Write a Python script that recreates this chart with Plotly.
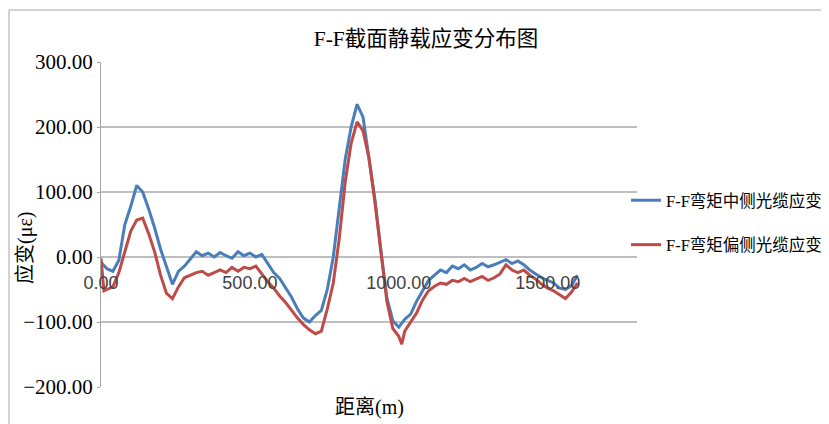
import plotly.graph_objects as go

# distance (m)
dist_mid = [0, 20, 40, 60, 80, 100, 120, 140, 160, 180, 200, 220, 240, 260, 280, 300,
            320, 340, 360, 380, 400, 420, 440, 460, 480, 500, 520, 540, 560, 580, 600,
            620, 640, 660, 680, 700, 720, 740, 760, 780, 800, 820, 840, 860, 880, 900,
            920, 940, 960, 980, 1000, 1020, 1040, 1060, 1080, 1100, 1120, 1140, 1160,
            1180, 1200, 1220, 1240, 1260, 1280, 1300, 1320, 1340, 1360, 1380, 1400,
            1420, 1440, 1460, 1480, 1500, 1520, 1540, 1560, 1580, 1600]
strain_mid = [-8, -18, -22, -5, 50, 78, 110, 100, 74, 45, 12, -16, -42, -22, -14, -3,
              8, 2, 6, 0, 7, 2, -2, 8, 2, 6, 0, 4, -10, -24, -33,
              -48, -62, -80, -94, -100, -90, -82, -50, 0, 80, 150, 200, 235, 215, 155,
              88, 10, -63, -98, -108, -96, -88, -68, -52, -36, -28, -20, -24,
              -14, -18, -12, -20, -16, -10, -15, -12, -8, -4, -10, -6,
              -12, -20, -26, -32, -36, -40, -48, -50, -44, -28]

dist_off = [0, 10, 20, 40, 60, 80, 100, 120, 140, 160, 180, 200, 220, 240, 260, 280, 300,
            320, 340, 360, 380, 400, 420, 440, 460, 480, 500, 520, 540, 560, 580, 600,
            620, 640, 660, 680, 700, 720, 740, 760, 780, 800, 820, 840, 860, 880, 900,
            920, 940, 960, 980, 1000, 1010, 1020, 1040, 1060, 1080, 1100, 1120, 1140, 1160,
            1180, 1200, 1220, 1240, 1260, 1280, 1300, 1320, 1340, 1360, 1380, 1400,
            1420, 1440, 1460, 1480, 1500, 1520, 1540, 1560, 1580, 1600]
strain_off = [-2, -52, -50, -46, -24, 8, 40, 57, 60, 36, 8, -28, -56, -64, -46, -32, -28,
              -24, -22, -28, -24, -20, -24, -16, -22, -16, -18, -14, -26, -38, -48, -60,
              -70, -82, -94, -104, -112, -118, -114, -80, -40, 28, 115, 175, 208, 194, 152,
              84, 10, -68, -110, -122, -134, -114, -100, -86, -66, -52, -45, -40, -42,
              -36, -38, -33, -38, -34, -30, -36, -32, -26, -12, -20, -24,
              -20, -28, -34, -42, -48, -52, -58, -64, -54, -40]

x_ticks = [0, 500, 1000, 1500]
y_ticks = [-200, -100, 0, 100, 200, 300]

names = ["F-F弯矩中侧光缆应变", "F-F弯矩偏侧光缆应变"]
title_text = "F-F截面静载应变分布图"
x_title = "距离(m)"
y_title = "应变(με)"

SERIF = "Liberation Serif, 'Times New Roman', 'Noto Sans CJK SC', serif"

# page body has an 8px margin, so the figure is drawn 8px in from the window corner
OFF = 8
W, H = 829 - OFF, 424 - OFF
L, T, PW, PH = 101 - OFF, 62 - OFF, 536, 325


def px_x(p):
    return (p - OFF - L) / PW


def px_y(p):
    return (T + PH - (p - OFF)) / PH


fig = go.Figure()
fig.add_trace(go.Scatter(x=dist_mid, y=strain_mid, mode="lines", name=names[0],
                         legendgroup="a",
                         line=dict(color="#4A7EBB", width=3)))
fig.add_trace(go.Scatter(x=dist_off, y=strain_off, mode="lines", name=names[1],
                         legendgroup="b",
                         line=dict(color="#BE4B48", width=3)))

fig.update_layout(
    width=W, height=H,
    margin=dict(l=L, r=W - L - PW, t=T, b=H - T - PH, autoexpand=False),
    paper_bgcolor="white", plot_bgcolor="white",
    showlegend=True,
    legend=dict(x=px_x(626), y=px_y(183), xanchor="left", yanchor="top",
                font=dict(family=SERIF, size=16.5, color="#000000"),
                traceorder="grouped", tracegroupgap=20, bgcolor="rgba(0,0,0,0)"),
    title=dict(text=title_text, x=(426 - OFF) / W, xref="container", xanchor="center",
               y=1 - (38 - OFF) / H, yref="container", yanchor="middle",
               font=dict(family=SERIF, size=21.5, color="#000000")),
    xaxis=dict(range=[0, 1800], tickvals=x_ticks, tickformat=".2f",
               showgrid=False, zeroline=False, showline=False,
               anchor="free", position=0.4, ticks="",
               ticklabelstandoff=13,
               tickfont=dict(family="Liberation Sans, Arial, sans-serif", size=18, color="#404040")),
    yaxis=dict(range=[-200, 300], tickvals=y_ticks, tickformat=".2f",
               showgrid=True, gridcolor="#BEBEBE", gridwidth=2, zeroline=False,
               showline=True, linecolor="#A6A6A6", linewidth=1,
               ticks="outside", ticklen=3, tickcolor="#A6A6A6",
               tickfont=dict(family=SERIF, size=21, color="#000000")),
)

fig.add_annotation(text=y_title, xref="paper", yref="paper",
                   x=px_x(25), y=px_y(248), textangle=-90,
                   showarrow=False, xanchor="center", yanchor="middle",
                   font=dict(family=SERIF, size=20, color="#000000"))
fig.add_annotation(text=x_title, xref="paper", yref="paper",
                   x=px_x(369), y=px_y(408),
                   showarrow=False, xanchor="center", yanchor="middle",
                   font=dict(family=SERIF, size=20, color="#000000"))

# chart frame (visible left and top border)
fig.add_shape(type="rect", xref="paper", yref="paper",
              x0=px_x(9), x1=px_x(900),
              y0=px_y(500), y1=px_y(10),
              line=dict(color="#A6A6A6", width=1), layer="below")

fig.write_html("out.html")
